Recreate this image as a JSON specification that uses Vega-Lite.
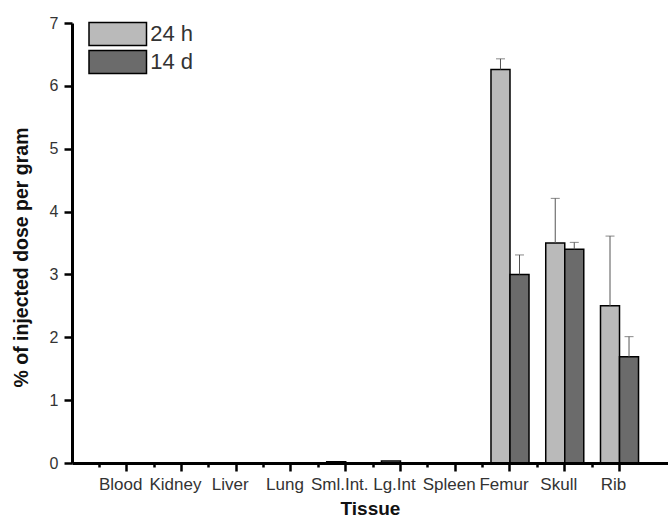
{
  "$schema": "https://vega.github.io/schema/vega-lite/v6.json",
  "width": 596,
  "height": 440,
  "autosize": "none",
  "padding": {"left": 72, "top": 23, "right": 0, "bottom": 65},
  "background": "white",
  "config": {
    "view": {"stroke": null},
    "font": "Liberation Sans"
  },
  "data": {
    "values": [
      {"Tissue": "Blood", "Time": "24 h", "Value": 0, "Upper": null},
      {"Tissue": "Blood", "Time": "14 d", "Value": 0, "Upper": null},
      {"Tissue": "Kidney", "Time": "24 h", "Value": 0, "Upper": null},
      {"Tissue": "Kidney", "Time": "14 d", "Value": 0, "Upper": null},
      {"Tissue": "Liver", "Time": "24 h", "Value": 0, "Upper": null},
      {"Tissue": "Liver", "Time": "14 d", "Value": 0, "Upper": null},
      {"Tissue": "Lung", "Time": "24 h", "Value": 0, "Upper": null},
      {"Tissue": "Lung", "Time": "14 d", "Value": 0, "Upper": null},
      {"Tissue": "Sml.Int.", "Time": "24 h", "Value": 0.02, "Upper": null},
      {"Tissue": "Sml.Int.", "Time": "14 d", "Value": 0, "Upper": null},
      {"Tissue": "Lg.Int", "Time": "24 h", "Value": 0.03, "Upper": null},
      {"Tissue": "Lg.Int", "Time": "14 d", "Value": 0, "Upper": null},
      {"Tissue": "Spleen", "Time": "24 h", "Value": 0, "Upper": null},
      {"Tissue": "Spleen", "Time": "14 d", "Value": 0, "Upper": null},
      {"Tissue": "Femur", "Time": "24 h", "Value": 6.26, "Upper": 6.43},
      {"Tissue": "Femur", "Time": "14 d", "Value": 3.0, "Upper": 3.31},
      {"Tissue": "Skull", "Time": "24 h", "Value": 3.5, "Upper": 4.21},
      {"Tissue": "Skull", "Time": "14 d", "Value": 3.4, "Upper": 3.51},
      {"Tissue": "Rib", "Time": "24 h", "Value": 2.5, "Upper": 3.61},
      {"Tissue": "Rib", "Time": "14 d", "Value": 1.69, "Upper": 2.01}
    ]
  },
  "resolve": {"axis": {"x": "independent"}},
  "layer": [
    {
      "mark": {"type": "bar", "stroke": "black", "strokeWidth": 1.5},
      "encoding": {
        "x": {
          "field": "Tissue", "type": "nominal",
          "sort": ["Blood", "Kidney", "Liver", "Lung", "Sml.Int.", "Lg.Int", "Spleen", "Femur", "Skull", "Rib"],
          "scale": {"paddingInner": 0, "paddingOuter": 0.442, "align": 0.564},
          "axis": {
            "orient": "bottom",
            "title": "Tissue",
            "titleFontSize": 19, "titleFontWeight": "bold", "titleColor": "#111", "titlePadding": 7,
            "labelAngle": 0, "labelFontSize": 17, "labelColor": "#333", "labelPadding": 5, "labelOffset": -6,
            "domainColor": "black", "domainWidth": 3,
            "ticks": true, "bandPosition": 0.5,
            "tickColor": "black", "tickWidth": 2.5, "tickSize": 8, "zindex": 2
          }
        },
        "xOffset": {
          "field": "Time", "type": "nominal", "sort": ["24 h", "14 d"],
          "scale": {"paddingInner": 0, "paddingOuter": 0.44}
        },
        "y": {
          "field": "Value", "type": "quantitative",
          "scale": {"domain": [0, 7], "nice": false},
          "axis": {
            "title": "% of injected dose per gram",
            "titleFontSize": 19.5, "titleFontWeight": "bold", "titleColor": "#111", "titlePadding": 18,
            "titleY": 234,
            "values": [0, 0.5, 1, 1.5, 2, 2.5, 3, 3.5, 4, 4.5, 5, 5.5, 6, 6.5, 7],
            "labelExpr": "datum.value % 1 === 0 ? format(datum.value, 'd') : ''",
            "labelFontSize": 16, "labelColor": "#333", "labelPadding": 6,
            "grid": false,
            "domainColor": "black", "domainWidth": 3,
            "ticks": true,
            "tickColor": "black", "tickWidth": 2.5,
            "tickSize": {"condition": {"test": "datum.value % 1 !== 0", "value": 4}, "value": 8}
          }
        },
        "fill": {
          "field": "Time", "type": "nominal",
          "scale": {"domain": ["24 h", "14 d"], "range": ["#bababa", "#6b6b6b"]},
          "legend": {
            "orient": "none", "legendX": 33.25, "legendY": -1.5,
            "title": null, "padding": 0,
            "symbolType": "M-2.5,-1H2.5V1H-2.5Z", "symbolSize": 529,
            "symbolStrokeColor": "black", "symbolStrokeWidth": 1.5,
            "labelFontSize": 22, "labelColor": "#333", "labelOffset": 20,
            "rowPadding": -1
          }
        }
      }
    },
    {
      "transform": [{"filter": "datum.Upper != null"}],
      "mark": {"type": "rule", "color": "#555", "strokeWidth": 1},
      "encoding": {
        "x": {"field": "Tissue", "type": "nominal", "sort": ["Blood", "Kidney", "Liver", "Lung", "Sml.Int.", "Lg.Int", "Spleen", "Femur", "Skull", "Rib"], "axis": null},
        "xOffset": {"field": "Time", "type": "nominal", "sort": ["24 h", "14 d"]},
        "y": {"field": "Value", "type": "quantitative"},
        "y2": {"field": "Upper"}
      }
    },
    {
      "transform": [{"filter": "datum.Upper != null"}],
      "mark": {"type": "tick", "size": 9, "thickness": 1, "color": "#555"},
      "encoding": {
        "x": {
          "field": "Tissue", "type": "nominal",
          "sort": ["Blood", "Kidney", "Liver", "Lung", "Sml.Int.", "Lg.Int", "Spleen", "Femur", "Skull", "Rib"],
          "axis": {
            "orient": "bottom", "bandPosition": 0, "labels": false, "domain": false, "title": null,
            "ticks": true, "tickColor": "black", "tickWidth": 2.5, "tickSize": 4, "grid": false
          }
        },
        "xOffset": {"field": "Time", "type": "nominal", "sort": ["24 h", "14 d"]},
        "y": {"field": "Upper", "type": "quantitative"}
      }
    }
  ]
}
